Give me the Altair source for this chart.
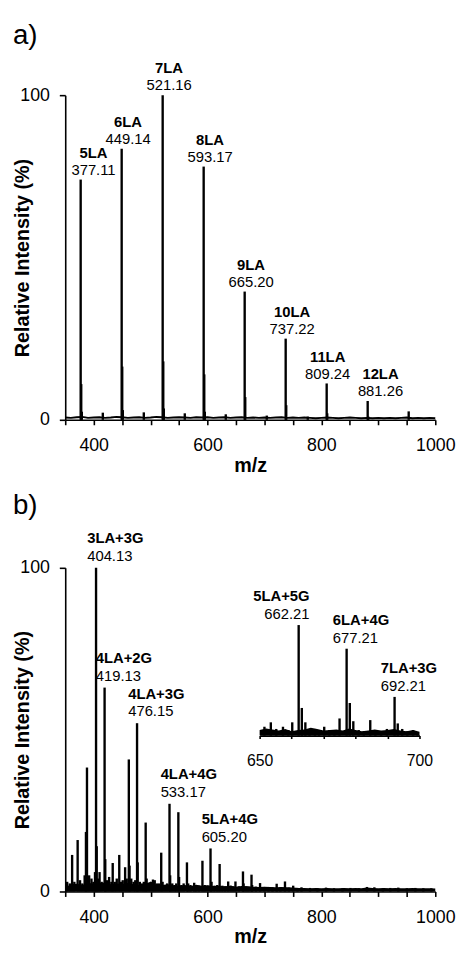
import altair as alt
import pandas as pd

FONT = "Liberation Sans"

# ---------------- panel a data ----------------
a_peak_mz = [377.11, 378.1, 379.1, 416.0, 449.14, 450.1, 451.1, 488.0, 521.16, 522.2,
             523.2, 560.0, 593.17, 594.2, 595.2, 632.0, 665.20, 666.2, 704.0, 737.22,
             738.2, 776.0, 809.24, 810.2, 881.26, 882.3, 953.3]
a_peak_int = [74.0, 11.0, 2.5, 2.2, 83.5, 16.4, 3.0, 2.3, 100.0, 18.0,
              3.5, 2.0, 78.0, 14.0, 2.5, 1.7, 39.5, 7.0, 1.3, 25.0,
              4.5, 1.0, 11.2, 2.0, 5.8, 1.0, 2.6]

base_mz = [350, 360, 370, 380, 390, 400, 410, 420, 430, 440,
           450, 460, 470, 480, 490, 500, 510, 520, 530, 540,
           550, 560, 570, 580, 590, 600, 610, 620, 630, 640,
           650, 660, 670, 680, 690, 700, 710, 720, 730, 740,
           750, 760, 770, 780, 790, 800, 810, 820, 830, 840,
           850, 860, 870, 880, 890, 900, 910, 920, 930, 940,
           950, 960, 970, 980, 990, 1000]
a_base_int = [0.7, 0.6, 0.8, 0.9, 0.6, 0.7, 0.8, 0.6, 0.7, 0.9,
              0.8, 0.6, 0.7, 0.8, 0.6, 0.7, 0.9, 0.8, 0.6, 0.7,
              0.8, 0.7, 0.6, 0.8, 0.7, 0.8, 0.6, 0.7, 0.8, 0.6,
              0.7, 0.8, 0.6, 0.7, 0.6, 0.7, 0.6, 0.7, 0.8, 0.6,
              0.7, 0.6, 0.7, 0.6, 0.5, 0.6, 0.7, 0.6, 0.5, 0.6,
              0.7, 0.6, 0.5, 0.6, 0.5, 0.6, 0.5, 0.6, 0.5, 0.6,
              0.7, 0.5, 0.6, 0.5, 0.6, 0.5]

a_lab_mz = [377.11, 449.14, 521.16, 593.17, 665.20, 737.22, 809.24, 881.26]
a_lab_int = [74.0, 83.5, 100.0, 78.0, 39.5, 25.0, 11.2, 5.8]
a_lab_name = ["5LA", "6LA", "7LA", "8LA", "9LA", "10LA", "11LA", "12LA"]
a_lab_val = ["377.11", "449.14", "521.16", "593.17", "665.20", "737.22", "809.24", "881.26"]

# ---------------- panel b data ----------------
b_peak_mz = [353.4, 358.0, 362.1, 366.0, 371.8, 376.0, 380.0, 384.1, 386.4, 388.2,
             392.0, 396.1, 399.5, 402.3, 404.13, 405.3, 408.0, 410.3, 414.0, 419.13,
             420.3, 423.0, 427.1, 431.0, 433.4, 437.0, 440.5, 444.9, 448.0, 451.0,
             455.2, 458.0, 461.7, 463.0, 466.0, 470.0, 473.0, 476.15, 477.3, 481.0,
             485.0, 488.0, 491.3, 493.0, 497.0, 501.0, 504.1, 507.2, 511.0, 515.0,
             518.6, 521.0, 525.0, 529.0, 533.17, 534.3, 538.0, 542.0, 545.0, 548.7,
             550.0, 554.0, 558.0, 563.8, 566.0, 570.0, 576.5, 580.0, 585.0, 591.0,
             595.0, 600.0, 605.20, 607.0, 612.0, 617.0, 621.2, 626.0, 631.0, 636.2,
             641.0, 645.0, 649.0, 655.0, 662.21, 663.3, 668.0, 672.0, 677.21, 678.3,
             685.0, 692.21, 700.0, 707.0, 714.0, 721.4, 728.0, 736.0, 743.0, 750.4,
             758.0, 765.0, 780.0, 793.0, 808.0, 822.0, 837.0, 851.0, 866.0, 880.0,
             893.0, 908.0, 921.0, 935.0, 950.0, 965.0, 979.0, 993.0]
b_peak_int = [3.0, 2.5, 11.3, 3.0, 15.9, 3.5, 2.5, 5.0, 18.4, 38.3,
              5.0, 4.0, 3.0, 6.0, 100.0, 14.0, 4.0, 6.0, 3.0, 63.0,
              10.0, 3.5, 4.5, 3.0, 8.8, 3.0, 4.0, 11.3, 3.0, 3.5,
              7.5, 4.0, 40.8, 8.0, 4.0, 3.0, 3.5, 52.0, 9.0, 3.0,
              2.5, 3.0, 21.3, 4.0, 2.5, 3.0, 3.7, 3.5, 2.5, 2.5,
              12.0, 3.0, 2.0, 2.5, 27.1, 5.0, 2.5, 2.0, 2.5, 24.5,
              4.5, 2.0, 2.5, 9.0, 2.5, 2.0, 2.7, 2.0, 1.8, 9.5,
              2.0, 1.8, 13.3, 3.0, 1.8, 2.0, 8.5, 1.8, 1.6, 3.1,
              1.8, 1.6, 3.1, 1.6, 6.2, 2.5, 1.6, 1.5, 5.2, 2.0,
              1.5, 2.6, 1.4, 1.4, 1.3, 2.4, 1.3, 3.1, 1.2, 1.8,
              1.1, 1.3, 1.1, 1.0, 1.2, 1.0, 1.0, 1.1, 1.0, 1.4,
              1.3, 1.0, 1.1, 1.2, 1.0, 1.1, 1.0, 1.0]

b_base_int = [1.2, 2.2, 2.4, 2.0, 2.7, 2.4, 2.6, 2.8, 2.2, 2.5,
              2.3, 2.6, 2.2, 2.0, 2.4, 3.0, 2.1, 2.0, 2.2, 1.9,
              1.8, 2.0, 1.7, 2.1, 1.8, 1.9, 1.7, 1.8, 1.6, 1.8,
              1.5, 1.7, 1.6, 1.5, 1.4, 1.5, 1.4, 1.3, 1.4, 1.3,
              1.2, 1.1, 1.1, 1.0, 1.1, 1.0, 1.1, 1.0, 1.0, 1.1,
              1.0, 1.1, 1.0, 1.2, 1.1, 1.0, 1.1, 1.0, 1.1, 1.0,
              1.0, 1.1, 1.0, 1.0, 1.0, 0.9]

b_lab_mz = [404.13, 419.13, 476.15, 533.17, 605.20]
b_lab_int = [100.0, 63.0, 52.0, 27.1, 13.3]
b_lab_name = ["3LA+3G", "4LA+2G", "4LA+3G", "4LA+4G", "5LA+4G"]
b_lab_val = ["404.13", "419.13", "476.15", "533.17", "605.20"]

# ---------------- inset data (relative to 662.21) ----------------
in_peak_mz = [651.5, 653.5, 655.2, 657.3, 659.0, 660.2, 662.21, 663.2, 664.3, 665.6,
              667.3, 668.6, 670.2, 671.8, 673.4, 675.0, 677.21, 678.2, 679.3, 681.0,
              682.6, 684.6, 686.2, 688.0, 689.8, 692.21, 693.2, 694.6, 696.2, 698.0,
              699.4]
in_peak_int = [8, 12, 6, 8, 5, 12, 100, 25, 12, 6,
               6, 5, 8, 5, 5, 15.5, 78.6, 29.5, 13, 5,
               4, 14, 5, 4, 6, 35, 11, 6, 4, 5,
               3]
in_base_mz = [650, 652, 654, 656, 658, 660, 662, 664, 666, 668,
              670, 672, 674, 676, 678, 680, 682, 684, 686, 688,
              690, 692, 694, 696, 698, 700]
in_base_int = [5.0, 6.5, 5.5, 4.5, 6.0, 4.0, 5.0, 5.5, 7.0, 6.0,
               4.5, 5.0, 5.5, 4.5, 6.5, 5.0, 4.0, 4.5, 5.5, 4.5,
               5.0, 6.0, 4.5, 4.0, 5.0, 3.5]
in_lab_mz = [662.21, 677.21, 692.21]
in_lab_int = [100, 78.6, 35]
in_lab_name = ["5LA+5G", "6LA+4G", "7LA+3G"]
in_lab_val = ["662.21", "677.21", "692.21"]

# ---------------- frames ----------------
a_peaks = pd.DataFrame({"mz": a_peak_mz, "i": a_peak_int})
a_base = pd.DataFrame({"mz": base_mz, "i": a_base_int})
a_labs = pd.DataFrame({"mz": a_lab_mz, "i": a_lab_int, "name": a_lab_name, "val": a_lab_val})
b_peaks = pd.DataFrame({"mz": b_peak_mz, "i": b_peak_int})
b_base = pd.DataFrame({"mz": base_mz, "i": b_base_int})
b_labs = pd.DataFrame({"mz": b_lab_mz, "i": b_lab_int, "name": b_lab_name, "val": b_lab_val})
in_peaks = pd.DataFrame({"mz": in_peak_mz, "i": in_peak_int})
in_base = pd.DataFrame({"mz": in_base_mz, "i": in_base_int})
in_labs = pd.DataFrame({"mz": in_lab_mz, "i": in_lab_int, "name": in_lab_name, "val": in_lab_val})

W = 375
HA = 329
HB = 328
PEAK_W = 2.4


def x_main():
    return alt.X("mz:Q",
                 scale=alt.Scale(domain=[350, 1000], nice=False, zero=False),
                 axis=alt.Axis(title="m/z", values=list(range(350, 1001, 50)),
                               labelExpr="datum.value % 200 === 0 ? datum.label : ''",
                               format="d", tickSize=5, labelPadding=12, titlePadding=1,
                               labelFontSize=18, titleFontSize=20, titleFontWeight="bold",
                               labelFlush=False, labelOverlap=False,
                               domainWidth=1.6, tickWidth=1.6, grid=False))


def y_main(h):
    return alt.Y("i:Q",
                 scale=alt.Scale(domain=[0, 100], nice=False),
                 axis=alt.Axis(title="Relative Intensity (%)", values=[0, 100],
                               tickSize=6, labelPadding=10, labelFontSize=18,
                               titleFontSize=20, titleFontWeight="bold",
                               titleX=-33, titleY=h / 2,
                               domainWidth=1.6, tickWidth=1.6, grid=False))


def label_pair(labs, X, Y, align, dx, dyv, dyn, flt=None):
    base = alt.Chart(labs)
    if flt is not None:
        base = base.transform_filter(flt)
    tv = base.mark_text(align=align, baseline="alphabetic", dx=dx, dy=dyv,
                        fontSize=15, font=FONT, color="black").encode(
        x=X, y=Y, text="val:N")
    tn = base.mark_text(align=align, baseline="alphabetic", dx=dx, dy=dyn,
                        fontSize=15, font=FONT, fontWeight="bold",
                        color="black").encode(x=X, y=Y, text="name:N")
    return [tv, tn]


def spectrum(peaks, base, h, base_kind):
    X = x_main()
    Y = y_main(h)
    if base_kind == "line":
        b = alt.Chart(base).mark_line(color="black", strokeWidth=2).encode(x=X, y=Y)
    else:
        b = alt.Chart(base).mark_area(color="black").encode(x=X, y=Y)
    r = alt.Chart(peaks).mark_rule(color="black", strokeWidth=PEAK_W).encode(
        x=X, y=Y, y2=alt.datum(0))
    return X, Y, [b, r]


# panel a
XA, YA, a_layers = spectrum(a_peaks, a_base, HA, "line")
a_layers += label_pair(a_labs, XA, YA, "center", 13, -5, -22,
                       "datum.mz < 400 || datum.mz > 850")
a_layers += label_pair(a_labs, XA, YA, "center", 1, -5, -22,
                       "datum.mz > 780 && datum.mz < 850")
a_layers += label_pair(a_labs, XA, YA, "center", 6.5, -5, -22,
                       "datum.mz > 400 && datum.mz < 780")
panel_a = alt.layer(*a_layers).properties(
    width=W, height=HA,
    title=alt.TitleParams("a)", anchor="start", fontSize=28, fontWeight="normal",
                          font=FONT, color="black", offset=12))

# panel b main
XB, YB, b_layers = spectrum(b_peaks, b_base, HB, "area")
b_layers += label_pair(b_labs, XB, YB, "left", -9, -7, -25)
main_b = alt.layer(*b_layers)

# inset
IX = alt.X("mz:Q",
           scale=alt.Scale(domain=[650, 700], range=[197, 359], nice=False, zero=False),
           axis=alt.Axis(orient="bottom", offset=-158, title=None,
                         values=[650, 660, 670, 680, 690, 700],
                         labelExpr="datum.value % 50 === 0 ? datum.label : ''",
                         format="d", tickSize=3, labelPadding=14, labelFontSize=16,
                         labelFlush=False, labelOverlap=False,
                         domainWidth=1.8, tickWidth=1.6, grid=False))
IY = alt.Y("i:Q", scale=alt.Scale(domain=[0, 100], range=[170, 58], nice=False), axis=None)

in_layers = [
    alt.Chart(in_base).mark_area(color="black").encode(x=IX, y=IY),
    alt.Chart(in_peaks).mark_rule(color="black", strokeWidth=PEAK_W).encode(
        x=IX, y=IY, y2=alt.datum(0)),
]
in_layers += label_pair(in_labs, IX, IY, "right", 11, -6, -24, "datum.mz < 670")
in_layers += label_pair(in_labs, IX, IY, "left", -14, -6, -24, "datum.mz >= 670")
inset = alt.layer(*in_layers)

panel_b = alt.layer(main_b, inset).resolve_scale(x="independent", y="independent").properties(
    width=W, height=HB,
    title=alt.TitleParams("b)", anchor="start", fontSize=28, fontWeight="normal",
                          font=FONT, color="black", offset=12))

chart = alt.vconcat(panel_a, panel_b, spacing=150, bounds="flush").properties(
    padding={"left": 5, "top": 8, "right": 0, "bottom": 0}
).configure_view(stroke=None).configure_axis(
    labelFont=FONT, titleFont=FONT, labelColor="black", titleColor="black",
    domainColor="black", tickColor="black"
)

chart.save("out.html", embed_options={"renderer": "svg", "actions": False})
